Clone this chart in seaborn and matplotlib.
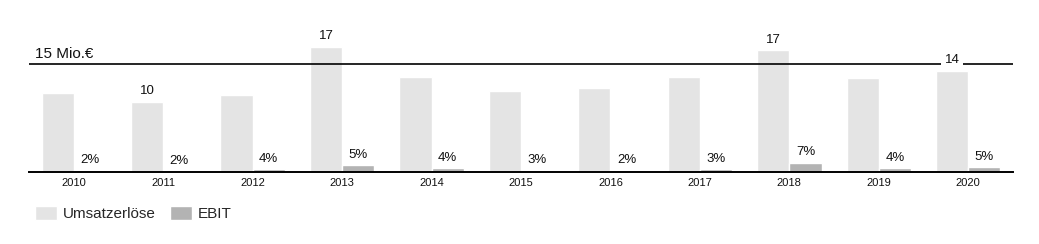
import matplotlib
matplotlib.use("Agg")
import matplotlib.pyplot as plt
import seaborn as sns
import pandas as pd

years = ["2010", "2011", "2012", "2013", "2014", "2015", "2016", "2017", "2018", "2019", "2020"]
umsatz = [11.0, 9.7, 10.7, 17.4, 13.2, 11.2, 11.7, 13.2, 16.9, 13.1, 14.0]
ebit = [0.28, 0.14, 0.46, 0.97, 0.60, 0.28, 0.28, 0.46, 1.30, 0.60, 0.74]
umsatz_labels = ["", "10", "", "17", "", "", "", "", "17", "", "14"]
ebit_labels = ["2%", "2%", "4%", "5%", "4%", "3%", "2%", "3%", "7%", "4%", "5%"]
series = ["Umsatzerlöse", "EBIT"]
ref_value = 15
ref_label = "15 Mio.€"

df = pd.DataFrame({
    "Jahr": years * 2,
    "Serie": [series[0]] * len(years) + [series[1]] * len(years),
    "Wert": umsatz + ebit,
})

sns.set_theme(style="white")
plt.rcParams["font.family"] = ["Liberation Sans", "DejaVu Sans"]

fig = plt.figure(figsize=(10.39, 2.44), dpi=100)
ax = fig.add_axes([29 / 1039, 1 - 172 / 244, (1013 - 29) / 1039, 151 / 244])

sns.barplot(data=df, x="Jahr", y="Wert", hue="Serie", palette=["#e4e4e4", "#b3b3b3"],
            width=0.72, gap=0, saturation=1, ax=ax, legend=True)

ax.set_xlim(-0.5, len(years) - 0.5)
ax.set_ylim(0, 21)
ax.axhline(ref_value, color="black", lw=1.2, zorder=1)
ax.text(0.006, ref_value + 0.5, ref_label, transform=ax.get_yaxis_transform(),
        ha="left", va="bottom", fontsize=11, color="#111111")

c_u, c_e = ax.containers[0], ax.containers[1]
texts = ax.bar_label(c_u, labels=umsatz_labels, padding=3.5, fontsize=9.5, color="#111111")
texts[-1].set_bbox(dict(facecolor="white", edgecolor="none", pad=2.5))
ax.bar_label(c_e, labels=ebit_labels, padding=3, fontsize=9.5, color="#111111")

for s in ["top", "right", "left"]:
    ax.spines[s].set_visible(False)
ax.spines["bottom"].set_color("black")
ax.spines["bottom"].set_linewidth(1.4)
ax.set_yticks([])
ax.set_xlabel("")
ax.set_ylabel("")
ax.tick_params(axis="x", length=0, labelsize=8, pad=4, colors="#111111")

handles, labels = ax.get_legend_handles_labels()
ax.get_legend().remove()
fig.legend(handles, labels, loc="upper left", bbox_to_anchor=(35 / 1039, 1 - 206 / 244),
           ncol=2, frameon=False, fontsize=11, handlelength=1.45, handleheight=1.05,
           handletextpad=0.4, columnspacing=0.9, borderaxespad=0, borderpad=0)

fig.savefig("out.png", dpi=100)
